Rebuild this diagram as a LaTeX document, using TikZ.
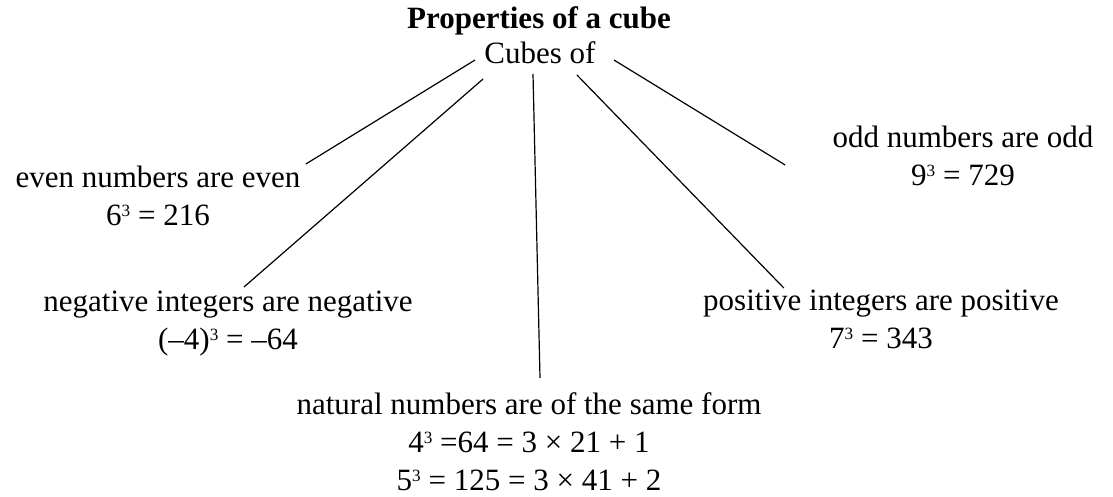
\documentclass[tikz,border=0pt]{standalone}
\usepackage{fontspec}
\setmainfont{Liberation Serif}
\usepackage{tikz}
\usetikzlibrary{calc}
\newcommand{\supthree}{\raisebox{4.6pt}{\fontsize{8.6}{9}\selectfont 3}}

\begin{document}
\begin{tikzpicture}[
  x=0.5pt, y=-0.5pt,
  font=\fontsize{15.5}{19}\selectfont,
  every node/.style={align=center, inner sep=0pt},
  prop/.style={anchor=north, text depth=0pt},
  branch/.style={draw=black, line width=0.6pt},
]
\useasboundingbox (0,0) rectangle (1113,497);

%% Top: title and root
\node[anchor=base] (title) at (539,29) {\textbf{Properties of a cube}};
\node[anchor=base] (cubes) at (540,64) {Cubes of};

%% Properties
\node[prop] (even) at (158,166)
  {even numbers are even\\6\supthree{} = 216};
\node[prop] (odd) at (963,126)
  {odd numbers are odd\\9\supthree{} = 729};
\node[prop] (neg) at (228,291)
  {negative integers are negative\\(–4)\supthree{} = –64};
\node[prop] (pos) at (881,290)
  {positive integers are positive\\7\supthree{} = 343};
\node[prop] (nat) at (529,392)
  {natural numbers are of the same form\\
   4\supthree{} =64 = 3 × 21 + 1\\
   5\supthree{} = 125 = 3 × 41 + 2};

%% Branches
\draw[branch] ($(cubes.base west)+(-9,-4)$) -- ($(even.north east)+(5,-2)$);
\draw[branch] ($(cubes.base west)+(-1,15)$) -- ($(neg.north)+(16,-4)$);
\draw[branch] ($(cubes.base)+(-7,10)$) -- ($(nat.north)+(11,-14)$);
\draw[branch] ($(cubes.base east)+(-19,11)$) -- ($(pos.north west)+(81,-2)$);
\draw[branch] ($(cubes.base east)+(18,-4)$) -- ($(odd.north west)+(-47,39)$);

\end{tikzpicture}
\end{document}
